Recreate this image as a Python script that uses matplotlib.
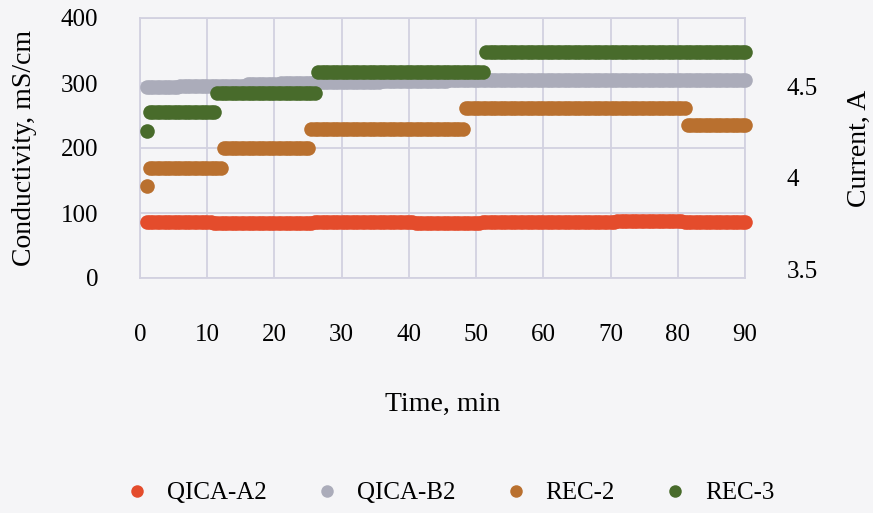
import matplotlib
matplotlib.use("Agg")
import matplotlib.pyplot as plt
from matplotlib.lines import Line2D
import numpy as np

# readings every half minute, from 1 to 90 min
time_min = np.arange(1, 90.01, 0.5)

qica_a2 = ([86] * 20 + [85] * 30 + [86] * 30 + [85] * 20 + [86] * 40
           + [87] * 20 + [86] * 19)
qica_b2 = ([294] * 10 + [295] * 10 + [296] * 10 + [298] * 10 + [300] * 10
           + [302] * 20 + [303] * 20 + [304] * 20 + [305] * 69)
rec_2 = ([142] + [169] * 22 + [200] * 26 + [229] * 46 + [262] * 66 + [235] * 18)
rec_3 = ([226] + [255] * 20 + [285] * 30 + [317] * 50 + [348] * 78)

series_names = ["QICA-A2", "QICA-B2", "REC-2", "REC-3"]
series_colors = ["#E44C2C", "#ABACBA", "#B9702F", "#486B2B"]

plt.rcParams["font.family"] = ["Liberation Serif", "DejaVu Serif"]
bg = "#F5F5F7"
grid_c = "#D2D1E0"

fig = plt.figure(figsize=(8.73, 5.13), dpi=100, facecolor=bg)
ax = fig.add_axes([140 / 873, 1 - 278 / 513, 605 / 873, 260 / 513])
ax.set_facecolor(bg)

for vals, col in zip([qica_a2, qica_b2, rec_2, rec_3], series_colors):
    ax.plot(time_min, vals, linestyle="none", marker="o", markersize=10.5,
            color=col, markeredgewidth=0, clip_on=False, zorder=3)

ax.set_xlim(0, 90)
ax.set_ylim(0, 400)
ax.set_xticks(range(0, 91, 10))
ax.set_yticks(range(0, 401, 100))
ax.grid(True, color=grid_c, linewidth=1.3)
ax.set_axisbelow(True)
for sp in ax.spines.values():
    sp.set_color(grid_c)
    sp.set_linewidth(1.3)
ax.tick_params(axis="both", length=0, labelsize=18)
ax.tick_params(axis="x", pad=33)
ax.tick_params(axis="y", pad=30)
ax.set_xlabel("Time, min", fontsize=20, labelpad=33)
ax.set_ylabel("Conductivity, mS/cm", fontsize=20, labelpad=17)

ax2 = ax.twinx()
ax2.set_ylim(3.4565, 4.8696)
ax2.set_yticks([3.5, 4.0, 4.5])
ax2.set_yticklabels(["3.5", "4", "4.5"])
ax2.tick_params(axis="y", length=0, labelsize=18, pad=30)
for sp in ax2.spines.values():
    sp.set_visible(False)
ax2.set_ylabel("Current, A", fontsize=20, labelpad=21)

handles = [Line2D([], [], linestyle="none", marker="o", markersize=9,
                  markeredgewidth=0, color=c) for c in series_colors]
fig.legend(handles, series_names, loc="center", bbox_to_anchor=(0.515, 1 - 493 / 513),
           ncol=4, frameon=False, fontsize=18, handletextpad=0.7,
           columnspacing=1.9, handlelength=1.0)

fig.savefig("out.png", dpi=100, facecolor=bg)
